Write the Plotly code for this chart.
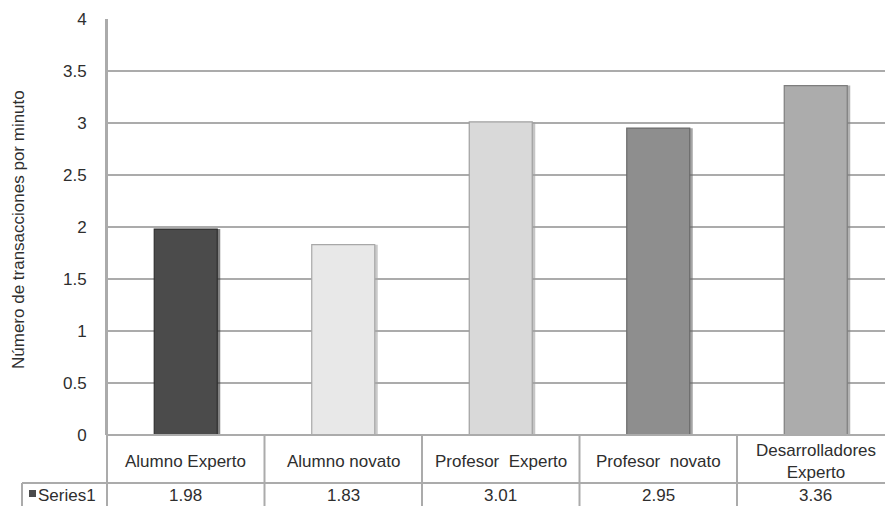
import plotly.graph_objects as go

# Transaction rate per user group
categories = ["Alumno Experto", "Alumno novato", "Profesor  Experto",
              "Profesor  novato", "Desarrolladores<br>Experto"]
values = [1.98, 1.83, 3.01, 2.95, 3.36]
bar_colors = ["#4b4b4b", "#e8e8e8", "#d9d9d9", "#8e8e8e", "#acacac"]
edge_colors = ["#2f2f2f", "#a8a8a8", "#a0a0a0", "#6a6a6a", "#7e7e7e"]
series_name = "Series1"
y_title = "Número de transacciones por minuto"
y_ticks = [0, 0.5, 1, 1.5, 2, 2.5, 3, 3.5, 4]

W, H = 885, 506
L, T, B = 107, 19, 71
plot_w = W - L
col_w = 157.5
n = len(categories)
x_lo = -0.5
x_hi = x_lo + plot_w / col_w

grid = "#ababab"
font = "Liberation Sans, Arial, sans-serif"
text_col = "#2e2e2e"
fs = 17

xs = list(range(n))
fig = go.Figure()

# soft drop shadow on the right side of each bar
fig.add_trace(go.Bar(
    x=xs, y=values, width=0.4, offset=-0.2 + 3 / col_w,
    marker=dict(color=edge_colors, line=dict(width=0)),
    opacity=0.6, hoverinfo="skip", showlegend=False,
))
fig.add_trace(go.Bar(
    x=xs, y=values, width=0.4, offset=-0.2,
    marker=dict(color=bar_colors, line=dict(color=edge_colors, width=1.2)),
    name=series_name, showlegend=False,
))

fig.update_layout(
    width=W, height=H,
    margin=dict(l=L, r=0, t=T, b=B),
    paper_bgcolor="white", plot_bgcolor="white",
    barmode="overlay",
    font=dict(family=font, size=fs, color=text_col),
    xaxis=dict(range=[x_lo, x_hi], showticklabels=False, showgrid=False,
               zeroline=False, showline=False, fixedrange=True),
    yaxis=dict(range=[0, 4], tickvals=y_ticks,
               ticktext=[f"{v:g}" for v in y_ticks],
               showgrid=True, gridcolor=grid, gridwidth=2,
               zeroline=False, showline=True, linecolor=grid, linewidth=2,
               ticks="", ticklen=0, ticklabelstandoff=15,
               tickfont=dict(size=fs, color=text_col)),
)


def px_to_py(py):
    return (H - B - py) / (H - B - T)


def px_to_px(px):
    return (px - L) / plot_w


def cat_edge(i):
    # paper x of boundary to the left of category i
    return (i - 0.5 - x_lo) / (x_hi - x_lo)


table_top = px_to_py(435)
row_mid = px_to_py(483)
table_bot = px_to_py(510)

shapes = []
line = dict(color=grid, width=2)
# axis baseline / top of table
shapes.append(dict(type="line", xref="paper", yref="paper",
                   x0=0, x1=1, y0=table_top, y1=table_top, line=line))
# row separator, extending under the series label cell
shapes.append(dict(type="line", xref="paper", yref="paper",
                   x0=px_to_px(22), x1=1, y0=row_mid, y1=row_mid, line=line))
# left border of series label cell
shapes.append(dict(type="line", xref="paper", yref="paper",
                   x0=px_to_px(22), x1=px_to_px(22), y0=row_mid, y1=table_bot,
                   line=line))
# column separators
for i in range(n + 1):
    xe = cat_edge(i)
    if xe > 1.0001:
        continue
    shapes.append(dict(type="line", xref="paper", yref="paper",
                       x0=xe, x1=xe, y0=table_top if i > 0 else 1,
                       y1=table_bot, line=line))
# legend key swatch
shapes.append(dict(type="rect", xref="paper", yref="paper",
                   x0=px_to_px(29), x1=px_to_px(36),
                   y0=px_to_py(497), y1=px_to_py(490),
                   fillcolor=bar_colors[0], line=dict(width=0)))

row2_y = px_to_py(495)
annotations = []
for i, (c, v) in enumerate(zip(categories, values)):
    annotations.append(dict(x=i, y=px_to_py(461), xref="x", yref="paper",
                            text=c, showarrow=False, yanchor="middle",
                            xanchor="center",
                            font=dict(size=fs, color=text_col)))
    annotations.append(dict(x=i, y=row2_y, xref="x", yref="paper",
                            text=f"{v:.2f}", showarrow=False, borderpad=0,
                            yanchor="middle", xanchor="center",
                            font=dict(size=fs, color=text_col)))
annotations.append(dict(x=px_to_px(37), y=row2_y, xref="paper",
                        yref="paper", text=series_name, showarrow=False,
                        xanchor="left", yanchor="middle", borderpad=0,
                        font=dict(size=fs, color=text_col)))
# rotated value-axis title
annotations.append(dict(x=px_to_px(18), y=px_to_py(230), xref="paper",
                        yref="paper", text=y_title, showarrow=False,
                        textangle=-90, xanchor="center", yanchor="middle",
                        font=dict(size=17, color=text_col)))

fig.update_layout(shapes=shapes, annotations=annotations)

fig.write_html("out.html")
